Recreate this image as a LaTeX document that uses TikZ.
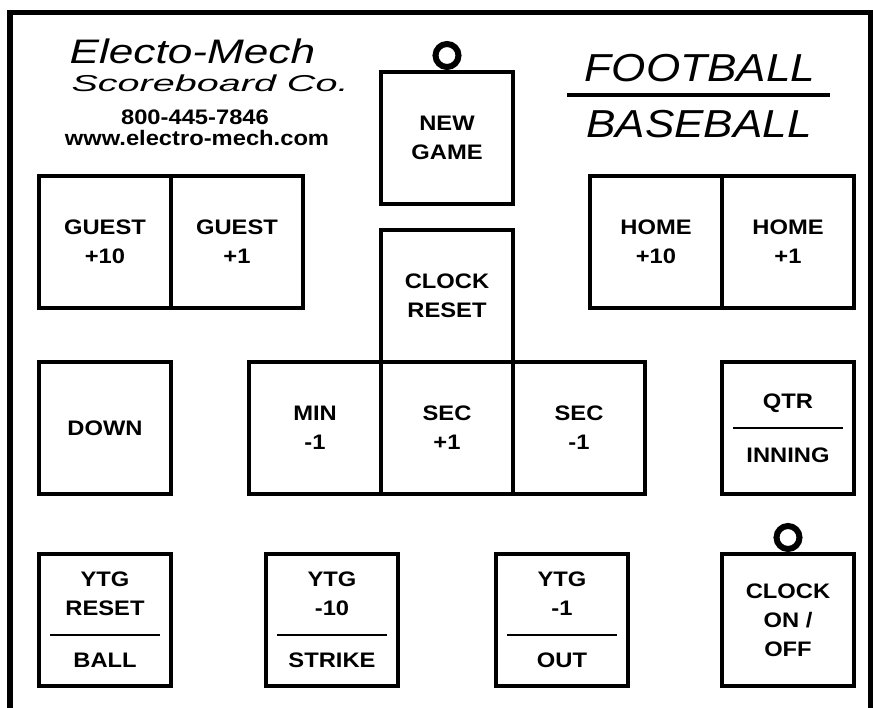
\documentclass[tikz,border=0pt]{standalone}
\usepackage{fontspec}
\setmainfont{Liberation Sans}
\newfontfamily\keyfont{Liberation Sans}[FakeStretch=1.13]
\newfontfamily\logofont{Liberation Sans}[FakeStretch=1.3]
\newfontfamily\companyfont{Liberation Sans}[FakeStretch=1.72]
\usetikzlibrary{positioning}

\begin{document}
\begin{tikzpicture}[x=1pt, y=-1pt,
    node distance=0pt,
    key/.style={draw, line width=4.5pt, outer sep=0pt, minimum width=132pt,
                minimum height=132pt, align=center,
                font=\keyfont\bfseries\fontsize{21}{29}\selectfont},
    knob/.style={draw, circle, line width=6pt, minimum size=23pt, inner sep=0pt},
    divider/.style={line width=2pt},
    logo/.style={anchor=base, font=\logofont\itshape\fontsize{37}{37}\selectfont},
    info/.style={anchor=base, font=\keyfont\bfseries\fontsize{21}{21}\selectfont}
  ]
  \useasboundingbox (0,0) rectangle (873,708);
  % panel frame
  \draw[line width=5.5pt] (10,708) -- (10,12.5) -- (870.5,12.5) -- (870.5,708);

  % maker and game titles
  \node[logo, anchor=base west, font=\logofont\itshape\fontsize{34}{34}\selectfont] (brand) at (66,64) {Electo-Mech};
  \node[logo, anchor=base west, font=\companyfont\itshape\fontsize{23}{23}\selectfont] (company) at (68,92) {Scoreboard Co.};
  \node[info] (phone) at (195,125) {800-445-7846};
  \node[info] (web)   at (197,146) {www.electro-mech.com};
  \node[logo, font=\keyfont\itshape\fontsize{39}{39}\selectfont] (football) at (700,82) {FOOTBALL};
  \node[logo, font=\keyfont\itshape\fontsize{39}{39}\selectfont] (baseball) at (699,138) {BASEBALL};
  \draw[line width=4.5pt] (567,95) -- (830,95);

  % score keys
  \node[key] (guestten) at (105,242) {GUEST\\+10};
  \node[key, right=of guestten] (guestone) {GUEST\\+1};
  \node[key] (hometen) at (656,242) {HOME\\+10};
  \node[key, right=of hometen] (homeone) {HOME\\+1};

  % clock keys
  \node[key] (newgame) at (447,138) {NEW\\GAME};
  \node[knob, above=2pt of newgame] (newknob) {};
  \node[key] (clockreset) at (447,296) {CLOCK\\RESET};
  \node[key, below=of clockreset] (secplus) {SEC\\+1};
  \node[key, left=of secplus]  (minminus) {MIN\\-1};
  \node[key, right=of secplus] (secminus) {SEC\\-1};

  \node[key] (down) at (105,428) {DOWN};
  \node[key] (qtr) at (788,428) {QTR\\[25pt]INNING};
  \draw[divider] ([xshift=11pt]qtr.west) -- ([xshift=-11pt]qtr.east);

  % bottom row
  \node[key] (ytgreset) at (105,620) {YTG\\RESET\\[23pt]BALL};
  \node[key] (ytgten)   at (332,620) {YTG\\-10\\[23pt]STRIKE};
  \node[key] (ytgone)   at (562,620) {YTG\\-1\\[23pt]OUT};
  \foreach \k in {ytgreset, ytgten, ytgone}
    \draw[divider] ([xshift=11pt, yshift=-15pt]\k.west) -- ([xshift=-11pt, yshift=-15pt]\k.east);
  \node[key] (clockon) at (788,620) {CLOCK\\ON /\\OFF};
  \node[knob, above=2pt of clockon] (clockknob) {};
\end{tikzpicture}
\end{document}
